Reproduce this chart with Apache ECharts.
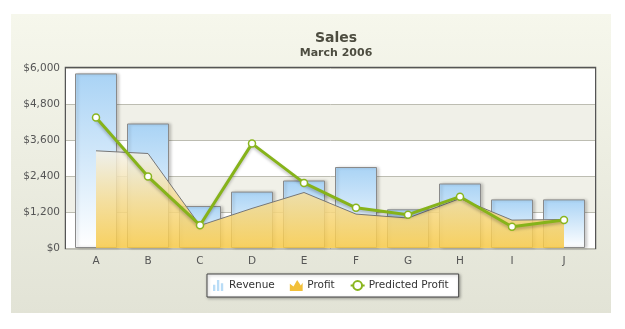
<!DOCTYPE html>
<html>
<head>
<meta charset="utf-8">
<script src="https://cdn.jsdelivr.net/npm/echarts@6/dist/echarts.min.js"></script>
<style>
  html, body { margin: 0; padding: 0; background: #ffffff; }
  #chart { width: 625px; height: 329px; }
</style>
</head>
<body>
<div id="chart"></div>
<script>
// Monthly sales figures
const categories = ['A', 'B', 'C', 'D', 'E', 'F', 'G', 'H', 'I', 'J'];
const revenue = [5820, 4150, 1400, 1880, 2250, 2700, 1290, 2150, 1620, 1620];
const profit = [3240, 3150, 750, 1320, 1850, 1130, 1000, 1650, 930, 950];
const predictedProfit = [4350, 2380, 760, 3480, 2170, 1340, 1110, 1710, 710, 930];
const yTicks = [0, 1200, 2400, 3600, 4800, 6000];

const FONT = '"DejaVu Sans", Verdana, sans-serif';
const yMin = yTicks[0];
const yMax = yTicks[yTicks.length - 1];
const yStep = yTicks[1] - yTicks[0];

const chart = echarts.init(document.getElementById('chart'), null, { renderer: 'canvas' });

const money = v => '$' + v.toLocaleString('en-US');

chart.setOption({
  animation: false,
  backgroundColor: '#ffffff',
  graphic: [{
    type: 'rect',
    z: -10,
    silent: true,
    shape: { x: 11, y: 14, width: 600, height: 299 },
    style: {
      fill: new echarts.graphic.LinearGradient(0, 0, 0, 1, [
        { offset: 0, color: '#f6f7ec' },
        { offset: 1, color: '#e2e3d6' }
      ])
    }
  }],
  title: {
    text: 'Sales',
    subtext: 'March 2006',
    left: 331,
    top: 26,
    textAlign: 'center',
    itemGap: 3,
    textStyle: { fontFamily: FONT, fontSize: 14, fontWeight: 'bold', color: '#4d4d40' },
    subtextStyle: { fontFamily: FONT, fontSize: 11, fontWeight: 'bold', color: '#4d4d40' }
  },
  legend: {
    top: 274,
    left: 207,
    backgroundColor: '#ffffff',
    borderColor: '#444444',
    borderWidth: 1,
    padding: [6, 10, 6, 6],
    itemGap: 15,
    itemWidth: 14,
    itemHeight: 11,
    shadowColor: 'rgba(0,0,0,0.3)',
    shadowBlur: 3,
    shadowOffsetX: 1,
    shadowOffsetY: 1,
    textStyle: { fontFamily: FONT, fontSize: 10.5, color: '#333333', padding: [0, 0, 0, -1] },
    data: [
      { name: 'Revenue', icon: 'path://M0,6H3V14H0ZM5,0H8V14H5ZM10,4H13V14H10Z',
        itemStyle: { color: '#b9dcf6', borderWidth: 0, shadowBlur: 0 } },
      { name: 'Profit', icon: 'path://M0,14L0,6L4,9L8,2L12,8L14,5L14,14Z',
        itemStyle: { color: '#f2c03a', borderWidth: 0 } },
      { name: 'Predicted Profit' }
    ]
  },
  grid: [
    { left: 66, right: 30, top: 68, bottom: 81, show: true, borderColor: '#555555', borderWidth: 2.5, z: 0 },
    { left: 70, right: 35, top: 68, bottom: 81 }
  ],
  xAxis: [
    { gridIndex: 0, type: 'value', show: false, min: 0, max: 1 },
    {
      gridIndex: 1,
      type: 'category',
      data: categories,
      axisLine: { show: false },
      axisTick: { show: false },
      axisLabel: { fontFamily: FONT, fontSize: 10.5, color: '#555555', margin: 8 }
    }
  ],
  yAxis: [
    {
      gridIndex: 0,
      type: 'value',
      min: yMin,
      max: yMax,
      interval: yStep,
      axisLine: { show: false },
      axisTick: { show: false },
      axisLabel: { fontFamily: FONT, fontSize: 10.5, color: '#555555', margin: 6, formatter: money },
      splitLine: { show: true, lineStyle: { color: '#bdbdb2', width: 1 } },
      splitArea: { show: true, areaStyle: { color: ['#ffffff', '#f0f0e8'] } }
    },
    {
      gridIndex: 1,
      type: 'value',
      min: yMin,
      max: yMax,
      interval: yStep,
      show: false,
      splitLine: { show: false }
    }
  ],
  series: [
    {
      name: 'Revenue',
      type: 'bar',
      xAxisIndex: 1,
      yAxisIndex: 1,
      barWidth: 42,
      data: revenue,
      z: 2,
      itemStyle: {
        color: new echarts.graphic.LinearGradient(0, 0, 0, 1, [
          { offset: 0, color: '#a9d3f5' },
          { offset: 1, color: '#ffffff' }
        ]),
        borderColor: '#8a8a8a',
        borderWidth: 1,
        shadowColor: 'rgba(0,0,0,0.2)',
        shadowBlur: 3,
        shadowOffsetX: 2,
        shadowOffsetY: 0
      }
    },
    {
      name: 'Profit',
      type: 'line',
      xAxisIndex: 1,
      yAxisIndex: 1,
      data: profit,
      z: 3,
      symbol: 'none',
      itemStyle: { color: '#f2c03a' },
      lineStyle: { color: '#777777', width: 1 },
      areaStyle: {
        opacity: 0.85,
        color: new echarts.graphic.LinearGradient(0, 0, 0, 1, [
          { offset: 0, color: '#f4f2ea' },
          { offset: 0.5, color: '#f6dc92' },
          { offset: 1, color: '#f6c844' }
        ])
      }
    },
    {
      name: 'Predicted Profit',
      type: 'line',
      xAxisIndex: 1,
      yAxisIndex: 1,
      data: predictedProfit,
      z: 4,
      symbol: 'circle',
      symbolSize: 7,
      showAllSymbol: true,
      itemStyle: { color: '#ffffff', borderColor: '#8ab51e', borderWidth: 1.5 },
      lineStyle: {
        color: '#86b31a',
        width: 3,
        shadowColor: 'rgba(0,0,0,0.25)',
        shadowBlur: 3,
        shadowOffsetY: 2
      }
    }
  ]
});
</script>
</body>
</html>
